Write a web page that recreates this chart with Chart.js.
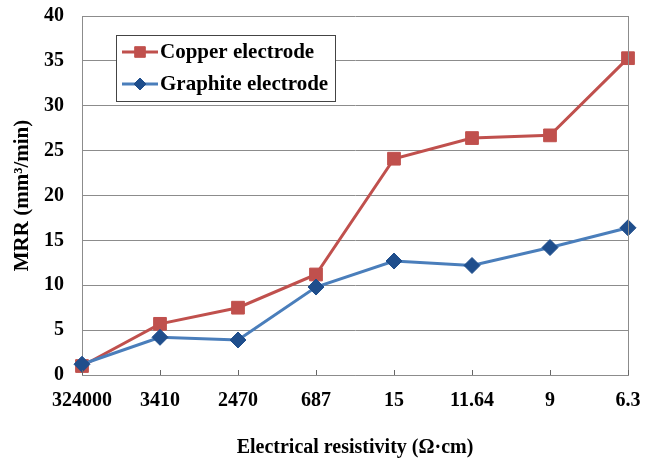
<!DOCTYPE html>
<html>
<head>
<meta charset="utf-8">
<script src="https://cdn.jsdelivr.net/npm/chart.js@4/dist/chart.umd.min.js"></script>
<style>
html,body{margin:0;padding:0;background:#fff;}
#wrap{width:654px;height:461px;position:relative;}
</style>
</head>
<body>
<div id="wrap"><canvas id="c" width="654" height="461"></canvas></div>
<script>
const categories = ["324000", "3410", "2470", "687", "15", "11.64", "9", "6.3"];
const copperValues = [1.0, 5.7, 7.5, 11.2, 24.1, 26.4, 26.7, 35.3];
const graphiteValues = [1.2, 4.2, 3.9, 9.8, 12.7, 12.2, 14.2, 16.4];
const seriesNames = ["Copper electrode", "Graphite electrode"];
const xTitle = "Electrical resistivity (\u03A9\u00B7cm)";
const yTitle = "MRR (mm\u00B3/min)";

const FONT = "'Liberation Serif','Times New Roman',serif";
const RED = "#C0504D";
const BLUE_LINE = "#4A7EBB";
const BLUE_MARK = "#1F4E8C";
const GRID = "#8c8c8c";

const extras = {
  id: 'extras',
  afterDatasetsDraw(chart) {
    const ctx = chart.ctx;
    const a = chart.chartArea;
    const xs = chart.scales.x;
    ctx.save();
    ctx.strokeStyle = GRID;
    ctx.lineWidth = 1;
    ctx.beginPath();
    ctx.moveTo(Math.round(a.right) + 0.5, a.top);
    ctx.lineTo(Math.round(a.right) + 0.5, a.bottom);
    ctx.stroke();
    ctx.strokeStyle = "#666";
    for (let i = 0; i < categories.length; i++) {
      const px = Math.round(xs.getPixelForTick(i)) + 0.5;
      ctx.beginPath();
      ctx.moveTo(px, a.bottom);
      ctx.lineTo(px, a.bottom - 5);
      ctx.stroke();
    }
    const lx = 116, ly = 35, lw = 219, lh = 66;
    ctx.fillStyle = "#fff";
    ctx.fillRect(lx, ly, lw, lh);
    ctx.strokeStyle = "#444";
    ctx.strokeRect(lx + 0.5, ly + 0.5, lw, lh);
    const items = [
      {name: seriesNames[0], line: RED, mark: RED, style: 'rect', r: 7.5, y: 52},
      {name: seriesNames[1], line: BLUE_LINE, mark: BLUE_MARK, style: 'rectRot', r: 6, y: 84}
    ];
    ctx.font = "bold 21px " + FONT;
    ctx.textBaseline = "middle";
    ctx.textAlign = "left";
    for (const it of items) {
      ctx.strokeStyle = it.line;
      ctx.lineWidth = 3;
      ctx.beginPath();
      ctx.moveTo(122, it.y);
      ctx.lineTo(158, it.y);
      ctx.stroke();
      ctx.fillStyle = it.mark;
      ctx.strokeStyle = it.mark;
      ctx.lineWidth = 1;
      Chart.helpers.drawPoint(ctx, {pointStyle: it.style, radius: it.r, borderWidth: 1}, 140, it.y);
      ctx.fillStyle = "#000";
      ctx.fillText(it.name, 160, it.y + 1);
    }
    ctx.restore();
  }
};

new Chart(document.getElementById('c'), {
  type: 'line',
  data: {
    labels: categories,
    datasets: [
      {
        label: seriesNames[0],
        data: copperValues,
        borderColor: RED,
        backgroundColor: RED,
        borderWidth: 3,
        pointStyle: 'rect',
        pointRadius: 9,
        pointBackgroundColor: RED,
        pointBorderColor: RED,
        pointBorderWidth: 1,
        tension: 0,
        order: 2
      },
      {
        label: seriesNames[1],
        data: graphiteValues,
        borderColor: BLUE_LINE,
        backgroundColor: BLUE_MARK,
        borderWidth: 3,
        pointStyle: 'rectRot',
        pointRadius: 8,
        pointBackgroundColor: BLUE_MARK,
        pointBorderColor: BLUE_MARK,
        pointBorderWidth: 1,
        tension: 0,
        order: 1
      }
    ]
  },
  options: {
    responsive: false,
    animation: false,
    devicePixelRatio: 1,
    layout: {autoPadding: false, padding: {left: 0, top: 16, right: 26, bottom: 0}},
    plugins: {legend: {display: false}, tooltip: {enabled: false}},
    scales: {
      x: {
        offset: false,
        grid: {display: true, drawOnChartArea: false, drawTicks: false, color: GRID},
        border: {display: true, color: GRID, width: 1},
        ticks: {font: {family: FONT, size: 20, weight: 'bold'}, color: '#000', padding: 14, maxRotation: 0, autoSkip: false},
        title: {display: true, text: xTitle, font: {family: FONT, size: 20, weight: 'bold'}, color: '#000', padding: {top: 0, bottom: 1}},
        afterFit(s) { s.height = 86; s.paddingLeft = 0; s.paddingRight = 0; }
      },
      y: {
        min: 0, max: 40,
        grid: {color: GRID, drawTicks: false, lineWidth: 1},
        border: {display: true, color: GRID, width: 1},
        ticks: {stepSize: 5, font: {family: FONT, size: 20, weight: 'bold'}, color: '#000', padding: 18},
        title: {display: true, text: yTitle, font: {family: FONT, size: 21, weight: 'bold'}, color: '#000', padding: {top: 10, bottom: 0}},
        afterFit(s) { s.width = 82; s.paddingTop = 0; s.paddingBottom = 0; }
      }
    }
  },
  plugins: [extras]
});
</script>
</body>
</html>
